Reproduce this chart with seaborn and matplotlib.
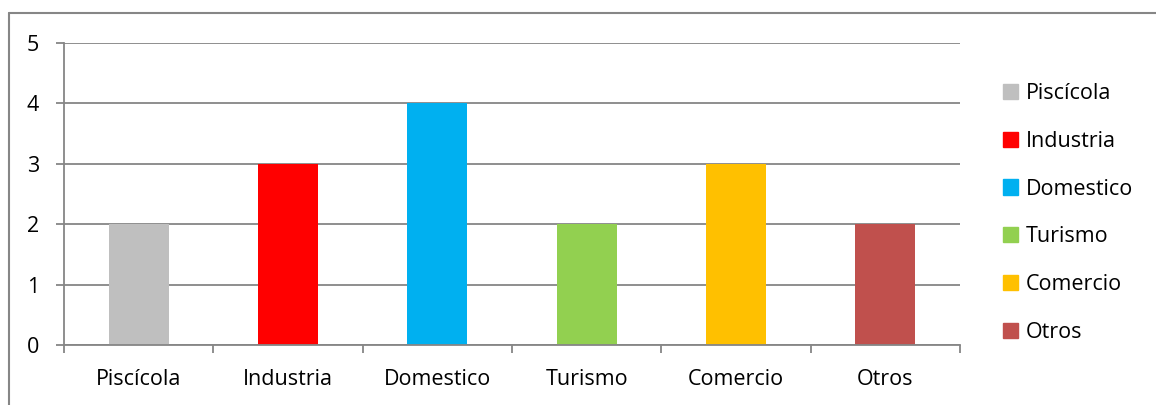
import pandas as pd
import matplotlib
matplotlib.use('Agg')
import matplotlib.pyplot as plt
import seaborn as sns
from matplotlib.lines import Line2D
from matplotlib.ticker import FixedLocator

# Datos del grafico
categorias = ['Piscícola', 'Industria', 'Domestico', 'Turismo', 'Comercio', 'Otros']
valores = [2, 3, 4, 2, 3, 2]
colores = ['#BFBFBF', '#FF0000', '#00B0F0', '#92D050', '#FFC000', '#C0504D']

df = pd.DataFrame({'sector': categorias, 'valor': valores})

sns.set_style('white')
plt.rcParams['font.family'] = ['Open Sans', 'DejaVu Sans']
plt.rcParams['text.color'] = 'black'
plt.rcParams['xtick.color'] = 'black'
plt.rcParams['ytick.color'] = 'black'

fig = plt.figure(figsize=(11.56, 4.05), dpi=100)
ax = fig.add_axes([64 / 1156, 60 / 405, 896 / 1156, 302 / 405])

sns.barplot(data=df, x='sector', y='valor', hue='sector', palette=colores,
            width=0.4, dodge=False, legend=False, ax=ax, saturation=1, linewidth=0)

gris = '#868686'
ax.set_ylim(0, 5)
ax.set_xlim(-0.5, 5.5)
ax.set_yticks(range(0, 6))
ax.yaxis.grid(True, color=gris, linewidth=1.3)
ax.set_axisbelow(True)
ax.set_xlabel('')
ax.set_ylabel('')

for lado in ['top', 'right']:
    ax.spines[lado].set_visible(False)
for lado in ['left', 'bottom']:
    ax.spines[lado].set_color(gris)
    ax.spines[lado].set_linewidth(1.3)

ax.tick_params(axis='y', left=True, length=6, width=1.3, color=gris, labelcolor='black',
               pad=12, labelsize=15.5)
ax.tick_params(axis='x', which='major', bottom=True, length=0, pad=17, labelcolor='black',
               labelsize=15.5)
ax.xaxis.set_minor_locator(FixedLocator([i - 0.5 for i in range(7)]))
ax.tick_params(axis='x', which='minor', bottom=True, length=6, width=1.3, color=gris,
               direction='out')

# Leyenda
handles = [plt.Rectangle((0, 0), 1, 1, color=c) for c in colores]
leg = ax.legend(handles, categorias, loc='center left', bbox_to_anchor=(984 / 1156, 192 / 405),
                bbox_transform=fig.transFigure, frameon=False, fontsize=15.5,
                handlelength=0.7, handleheight=0.7, handletextpad=0.35, labelspacing=1.25)
for t in leg.get_texts():
    t.set_color('black')

# Marco exterior
fig.add_artist(Line2D([8.5 / 1156, 8.5 / 1156], [0, 1 - 13 / 405], color=gris, linewidth=1.5,
                      transform=fig.transFigure))
fig.add_artist(Line2D([8.5 / 1156, 1], [1 - 13 / 405, 1 - 13 / 405], color=gris, linewidth=1.5,
                      transform=fig.transFigure))

fig.savefig('out.png', dpi=100)
